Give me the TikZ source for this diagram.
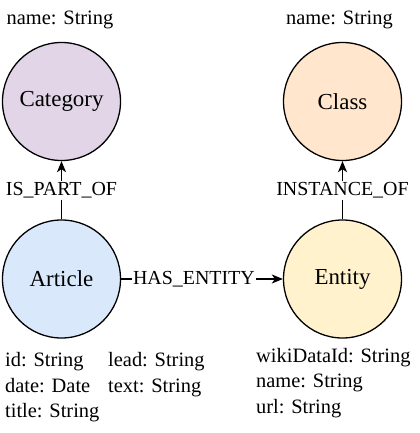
\documentclass[tikz,border=0pt]{standalone}
\usepackage{fontspec}
\setmainfont{Liberation Serif}
\usetikzlibrary{arrows.meta}

\tikzset{
  gnode/.style={draw,circle,line width=1.3bp,minimum size=118bp,inner sep=0pt,font=\fontsize{23}{28}\selectfont},
  rel/.style={-{Stealth[length=11bp,width=9bp,inset=3bp]},line width=1.3bp},
  relname/.style={fill=white,inner sep=1.5bp,font=\fontsize{20}{24}\selectfont},
  prop/.style={align=left,inner sep=0pt,font=\fontsize{20.5}{25.5}\selectfont},
}

\begin{document}
\begin{tikzpicture}[x=1bp,y=-1bp]
  \useasboundingbox (0,0) rectangle (419,433);

  \node[gnode,fill={rgb,255:red,225;green,213;blue,231}] (cat) at (61.5,101.5) {Category};
  \node[gnode,fill={rgb,255:red,255;green,230;blue,204}] (cls) at (342.5,101.5) {Class};
  \node[gnode,fill={rgb,255:red,218;green,232;blue,252}] (art) at (61.5,279) {Article};
  \node[gnode,fill={rgb,255:red,255;green,242;blue,204}] (ent) at (342.5,279) {Entity};

  \node[prop,anchor=base] (catprops) at (60,25) {name: String};
  \node[prop,anchor=base] (clsprops) at (339.5,25) {name: String};
  \node[prop,anchor=north west] (artprops) at (5,352.5) {id: String\\date: Date\\title: String};
  \node[prop,anchor=north west] (artprops2) at (108,352.5) {lead: String\\text: String};
  \node[prop,anchor=north west] (entprops) at (256,348) {wikiDataId: String\\name: String\\url: String};

  \draw[rel] (art) -- node[relname] {IS\_PART\_OF} (cat);
  \draw[rel] (ent) -- node[relname] {INSTANCE\_OF} (cls);
  \draw[rel] (art) -- node[relname,pos=0.45] {HAS\_ENTITY} (ent);
\end{tikzpicture}
\end{document}
